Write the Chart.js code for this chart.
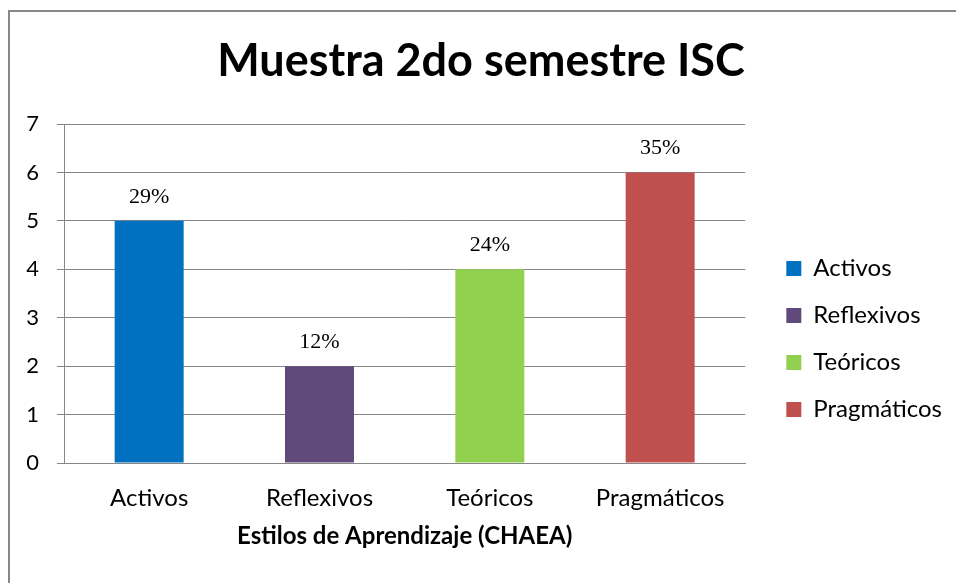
<!DOCTYPE html>
<html>
<head>
<meta charset="utf-8">
<script src="https://cdn.jsdelivr.net/npm/chart.js@4/dist/chart.umd.min.js"></script>
<style>
    html, body { margin: 0; padding: 0; background: #fff; }
    #frame {
        position: absolute; left: 8px; top: 10px; right: 0; bottom: 0;
        border-top: 2px solid #878787; border-left: 2px solid #878787;
    }
    #chart { position: absolute; left: 0; top: 0; }
</style>
</head>
<body>
<div id="frame"><canvas id="chart" width="946" height="571"></canvas></div>
<script>
    var categories = ['Activos', 'Reflexivos', 'Teóricos', 'Pragmáticos'];
    var counts = [5, 2, 4, 6];
    var percentLabels = ['29%', '12%', '24%', '35%'];
    var barColors = ['#0070C0', '#604A7B', '#92D050', '#C0504D'];
    var yTicks = [0, 1, 2, 3, 4, 5, 6, 7];

    var sans = 'Lato, "Open Sans", sans-serif';
    var gray = '#868686';

    // percentage text above each bar
    var barLabels = {
        id: 'barLabels',
        afterDatasetsDraw: function (chart) {
            var ctx = chart.ctx;
            var meta = chart.getDatasetMeta(0);
            ctx.save();
            ctx.font = '22px "Liberation Serif", "Times New Roman", serif';
            ctx.fillStyle = '#000';
            ctx.textAlign = 'center';
            ctx.textBaseline = 'alphabetic';
            meta.data.forEach(function (bar, i) {
                ctx.fillText(percentLabels[i], bar.x, bar.y - 18);
            });
            ctx.restore();
        }
    };

    new Chart(document.getElementById('chart').getContext('2d'), {
        type: 'bar',
        data: {
            labels: categories,
            datasets: [{
                data: counts,
                backgroundColor: barColors,
                borderWidth: 0,
                barPercentage: 0.405,
                categoryPercentage: 1
            }]
        },
        options: {
            responsive: false,
            animation: false,
            devicePixelRatio: 1,
            layout: { padding: { top: 0, left: 0, right: 4, bottom: 0 } },
            plugins: {
                title: {
                    display: true,
                    text: 'Muestra 2do semestre ISC',
                    color: '#000',
                    font: { family: sans, size: 45, weight: 'bold' },
                    padding: { top: 22, bottom: 36 }
                },
                legend: {
                    position: 'right',
                    maxWidth: 300,
                    // blank title pushes the items down the column
                    title: { display: true, text: ' ', font: { size: 10 }, padding: { top: 71, bottom: 0 } },
                    labels: {
                        color: '#000',
                        font: { family: sans, size: 24 },
                        boxWidth: 15,
                        boxHeight: 15,
                        padding: 23,
                        generateLabels: function () {
                            return categories.map(function (c, i) {
                                return {
                                    text: c,
                                    fillStyle: barColors[i],
                                    strokeStyle: barColors[i],
                                    fontColor: '#000',
                                    lineWidth: 0,
                                    index: i
                                };
                            });
                        }
                    }
                },
                tooltip: { enabled: false }
            },
            scales: {
                x: {
                    grid: { display: false, drawTicks: false },
                    border: { display: true, color: gray, width: 1 },
                    ticks: { color: '#000', font: { family: sans, size: 24 }, padding: 21 },
                    title: {
                        display: true,
                        text: 'Estilos de Aprendizaje (CHAEA)',
                        color: '#000',
                        font: { family: sans, size: 24, weight: 'bold' },
                        padding: { top: 0, bottom: 32 }
                    },
                    afterFit: function (s) { s.height = 120; }
                },
                y: {
                    min: 0,
                    max: 7,
                    afterBuildTicks: function (s) { s.ticks = yTicks.map(function (v) { return { value: v }; }); },
                    grid: { color: gray, lineWidth: 1, tickLength: 7 },
                    border: { display: true, color: gray, width: 1 },
                    ticks: { color: '#000', font: { family: sans, size: 22 }, padding: 18 },
                    afterFit: function (s) { s.width = 54; }
                },
                // empty strip between the plot and the legend
                gap: {
                    type: 'linear',
                    position: 'right',
                    grid: { display: false, drawTicks: false },
                    border: { display: false },
                    ticks: { display: false },
                    afterFit: function (s) { s.width = 18; }
                }
            }
        },
        plugins: [barLabels]
    });
</script>
</body>
</html>
